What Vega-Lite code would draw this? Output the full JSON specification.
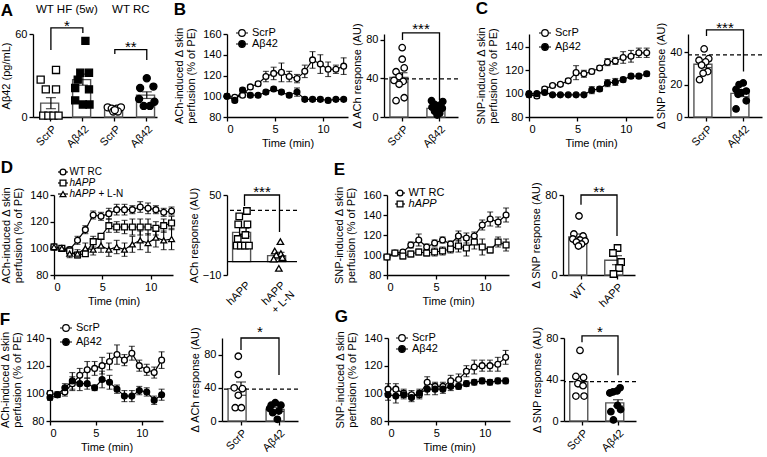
{
"$schema": "https://vega.github.io/schema/vega-lite/v6.json",
"background": "white",
"padding": {"left": -1, "top": 0, "right": 0, "bottom": 0},
"config": {
  "font": "Liberation Sans",
  "view": {"stroke": null},
  "axis": {"domainColor": "black", "domainWidth": 1.3, "tickColor": "black", "tickWidth": 1.3, "tickSize": 4, "labelColor": "black", "labelFontSize": 11, "labelPadding": 2, "titleColor": "black", "titleFontSize": 11, "titleFontWeight": "normal", "grid": false, "labelFont": "Liberation Sans", "titleFont": "Liberation Sans", "titlePadding": 4},
  "title": {"fontSize": 17, "fontWeight": "bold", "anchor": "start", "frame": "bounds", "color": "black", "font": "Liberation Sans"},
  "legend": {"orient": "none", "padding": 0, "labelFontSize": 11, "labelColor": "black", "labelFont": "Liberation Sans", "symbolStrokeColor": "black", "symbolStrokeWidth": 1.2, "symbolSize": 144, "labelOffset": 3, "rowPadding": 0},
  "text": {"font": "Liberation Sans", "color": "black"}
},
"datasets": {
  "lB": [
    {"t":0,"g":"ScrP","v":100,"e":2},{"t":0.81,"g":"ScrP","v":99,"e":2},{"t":1.62,"g":"ScrP","v":101,"e":2},{"t":2.43,"g":"ScrP","v":109,"e":2},{"t":3.24,"g":"ScrP","v":112,"e":2},{"t":4.05,"g":"ScrP","v":119,"e":5},{"t":4.86,"g":"ScrP","v":122,"e":6},{"t":5.67,"g":"ScrP","v":123,"e":9},{"t":6.48,"g":"ScrP","v":119,"e":5},{"t":7.29,"g":"ScrP","v":117,"e":4},{"t":8.1,"g":"ScrP","v":124,"e":6},{"t":8.91,"g":"ScrP","v":135,"e":8},{"t":9.72,"g":"ScrP","v":131,"e":9},{"t":10.53,"g":"ScrP","v":126,"e":7},{"t":11.34,"g":"ScrP","v":126,"e":4},{"t":12.15,"g":"ScrP","v":129,"e":8},
    {"t":0,"g":"Aβ42","v":100,"e":2},{"t":0.81,"g":"Aβ42","v":96,"e":2},{"t":1.62,"g":"Aβ42","v":106,"e":2},{"t":2.43,"g":"Aβ42","v":101,"e":2},{"t":3.24,"g":"Aβ42","v":101,"e":1.5},{"t":4.05,"g":"Aβ42","v":104,"e":2},{"t":4.86,"g":"Aβ42","v":107,"e":2},{"t":5.67,"g":"Aβ42","v":104,"e":2},{"t":6.48,"g":"Aβ42","v":101,"e":2},{"t":7.29,"g":"Aβ42","v":104,"e":4},{"t":8.1,"g":"Aβ42","v":97,"e":2},{"t":8.91,"g":"Aβ42","v":97,"e":2},{"t":9.72,"g":"Aβ42","v":97,"e":2},{"t":10.53,"g":"Aβ42","v":96,"e":2},{"t":11.34,"g":"Aβ42","v":97,"e":1.5},{"t":12.15,"g":"Aβ42","v":97,"e":1.5}
  ],
  "lC": [
    {"t":0,"g":"ScrP","v":99,"e":2},{"t":0.81,"g":"ScrP","v":98,"e":2},{"t":1.62,"g":"ScrP","v":104,"e":2},{"t":2.43,"g":"ScrP","v":107,"e":1.5},{"t":3.24,"g":"ScrP","v":108,"e":1.5},{"t":4.05,"g":"ScrP","v":111,"e":2},{"t":4.86,"g":"ScrP","v":118,"e":6},{"t":5.67,"g":"ScrP","v":117,"e":3},{"t":6.48,"g":"ScrP","v":119,"e":2},{"t":7.29,"g":"ScrP","v":122,"e":2},{"t":8.1,"g":"ScrP","v":127,"e":3},{"t":8.91,"g":"ScrP","v":128,"e":3},{"t":9.72,"g":"ScrP","v":131,"e":5},{"t":10.53,"g":"ScrP","v":132,"e":5},{"t":11.34,"g":"ScrP","v":135,"e":4},{"t":12.15,"g":"ScrP","v":135,"e":4},
    {"t":0,"g":"Aβ42","v":100,"e":1},{"t":0.81,"g":"Aβ42","v":100,"e":1},{"t":1.62,"g":"Aβ42","v":101,"e":1},{"t":2.43,"g":"Aβ42","v":99,"e":1},{"t":3.24,"g":"Aβ42","v":99,"e":1},{"t":4.05,"g":"Aβ42","v":99,"e":1},{"t":4.86,"g":"Aβ42","v":99,"e":1},{"t":5.67,"g":"Aβ42","v":99,"e":1},{"t":6.48,"g":"Aβ42","v":103,"e":3},{"t":7.29,"g":"Aβ42","v":104,"e":2},{"t":8.1,"g":"Aβ42","v":109,"e":3},{"t":8.91,"g":"Aβ42","v":110,"e":3},{"t":9.72,"g":"Aβ42","v":112,"e":2},{"t":10.53,"g":"Aβ42","v":115,"e":2},{"t":11.34,"g":"Aβ42","v":115,"e":2},{"t":12.15,"g":"Aβ42","v":117,"e":2}
  ],
  "lD": [
    {"t":0,"g":"WT RC","v":101,"e":2},{"t":0.81,"g":"WT RC","v":100,"e":2},{"t":1.62,"g":"WT RC","v":99,"e":2},{"t":2.43,"g":"WT RC","v":106,"e":3},{"t":3.24,"g":"WT RC","v":114,"e":3},{"t":4.05,"g":"WT RC","v":125,"e":3},{"t":4.86,"g":"WT RC","v":124,"e":3},{"t":5.67,"g":"WT RC","v":126,"e":4},{"t":6.48,"g":"WT RC","v":129,"e":4},{"t":7.29,"g":"WT RC","v":129,"e":4},{"t":8.1,"g":"WT RC","v":129,"e":3},{"t":8.91,"g":"WT RC","v":131,"e":4},{"t":9.72,"g":"WT RC","v":130,"e":4},{"t":10.53,"g":"WT RC","v":129,"e":3},{"t":11.34,"g":"WT RC","v":127,"e":3},{"t":12.15,"g":"WT RC","v":128,"e":3},
    {"t":0,"g":"hAPP","v":101,"e":2},{"t":0.81,"g":"hAPP","v":100,"e":2},{"t":1.62,"g":"hAPP","v":98,"e":2},{"t":2.43,"g":"hAPP","v":95,"e":2},{"t":3.24,"g":"hAPP","v":96,"e":2},{"t":4.05,"g":"hAPP","v":105,"e":4},{"t":4.86,"g":"hAPP","v":109,"e":2},{"t":5.67,"g":"hAPP","v":117,"e":5},{"t":6.48,"g":"hAPP","v":116,"e":4},{"t":7.29,"g":"hAPP","v":116,"e":5},{"t":8.1,"g":"hAPP","v":116,"e":6},{"t":8.91,"g":"hAPP","v":116,"e":6},{"t":9.72,"g":"hAPP","v":116,"e":6},{"t":10.53,"g":"hAPP","v":115,"e":5},{"t":11.34,"g":"hAPP","v":117,"e":5},{"t":12.15,"g":"hAPP","v":119,"e":5},
    {"t":0,"g":"hAPP + L-N","v":101,"e":2},{"t":0.81,"g":"hAPP + L-N","v":100,"e":2},{"t":1.62,"g":"hAPP + L-N","v":96,"e":3},{"t":2.43,"g":"hAPP + L-N","v":96,"e":3},{"t":3.24,"g":"hAPP + L-N","v":100,"e":4},{"t":4.05,"g":"hAPP + L-N","v":99,"e":4},{"t":4.86,"g":"hAPP + L-N","v":102,"e":5},{"t":5.67,"g":"hAPP + L-N","v":99,"e":5},{"t":6.48,"g":"hAPP + L-N","v":101,"e":5},{"t":7.29,"g":"hAPP + L-N","v":99,"e":5},{"t":8.1,"g":"hAPP + L-N","v":103,"e":6},{"t":8.91,"g":"hAPP + L-N","v":106,"e":7},{"t":9.72,"g":"hAPP + L-N","v":104,"e":7},{"t":10.53,"g":"hAPP + L-N","v":108,"e":7},{"t":11.34,"g":"hAPP + L-N","v":106,"e":7},{"t":12.15,"g":"hAPP + L-N","v":107,"e":8}
  ],
  "lE": [
    {"t":0,"g":"WT RC","v":98,"e":2},{"t":0.81,"g":"WT RC","v":102,"e":2},{"t":1.62,"g":"WT RC","v":103,"e":2},{"t":2.43,"g":"WT RC","v":110,"e":3},{"t":3.24,"g":"WT RC","v":115,"e":6},{"t":4.05,"g":"WT RC","v":108,"e":3},{"t":4.86,"g":"WT RC","v":112,"e":3},{"t":5.67,"g":"WT RC","v":115,"e":3},{"t":6.48,"g":"WT RC","v":111,"e":3},{"t":7.29,"g":"WT RC","v":119,"e":5},{"t":8.1,"g":"WT RC","v":117,"e":5},{"t":8.91,"g":"WT RC","v":119,"e":4},{"t":9.72,"g":"WT RC","v":130,"e":5},{"t":10.53,"g":"WT RC","v":136,"e":7},{"t":11.34,"g":"WT RC","v":133,"e":5},{"t":12.15,"g":"WT RC","v":140,"e":7},
    {"t":0,"g":"hAPP","v":98,"e":2},{"t":0.81,"g":"hAPP","v":102,"e":2},{"t":1.62,"g":"hAPP","v":99,"e":3},{"t":2.43,"g":"hAPP","v":101,"e":3},{"t":3.24,"g":"hAPP","v":103,"e":3},{"t":4.05,"g":"hAPP","v":102,"e":3},{"t":4.86,"g":"hAPP","v":103,"e":4},{"t":5.67,"g":"hAPP","v":104,"e":4},{"t":6.48,"g":"hAPP","v":106,"e":4},{"t":7.29,"g":"hAPP","v":109,"e":6},{"t":8.1,"g":"hAPP","v":107,"e":8},{"t":8.91,"g":"hAPP","v":113,"e":7},{"t":9.72,"g":"hAPP","v":108,"e":8},{"t":10.53,"g":"hAPP","v":105,"e":3},{"t":11.34,"g":"hAPP","v":113,"e":5},{"t":12.15,"g":"hAPP","v":110,"e":6}
  ],
  "lF": [
    {"t":0,"g":"ScrP","v":100,"e":2},{"t":0.81,"g":"ScrP","v":99,"e":2},{"t":1.62,"g":"ScrP","v":101,"e":3},{"t":2.43,"g":"ScrP","v":107,"e":5},{"t":3.24,"g":"ScrP","v":113,"e":5},{"t":4.05,"g":"ScrP","v":117,"e":6},{"t":4.86,"g":"ScrP","v":118,"e":5},{"t":5.67,"g":"ScrP","v":120,"e":6},{"t":6.48,"g":"ScrP","v":123,"e":6},{"t":7.29,"g":"ScrP","v":128,"e":7},{"t":8.1,"g":"ScrP","v":124,"e":4},{"t":8.91,"g":"ScrP","v":129,"e":5},{"t":9.72,"g":"ScrP","v":120,"e":4},{"t":10.53,"g":"ScrP","v":117,"e":4},{"t":11.34,"g":"ScrP","v":115,"e":4},{"t":12.15,"g":"ScrP","v":124,"e":6},
    {"t":0,"g":"Aβ42","v":97,"e":2},{"t":0.81,"g":"Aβ42","v":99,"e":2},{"t":1.62,"g":"Aβ42","v":104,"e":3},{"t":2.43,"g":"Aβ42","v":109,"e":6},{"t":3.24,"g":"Aβ42","v":107,"e":5},{"t":4.05,"g":"Aβ42","v":107,"e":4},{"t":4.86,"g":"Aβ42","v":104,"e":2},{"t":5.67,"g":"Aβ42","v":110,"e":6},{"t":6.48,"g":"Aβ42","v":108,"e":5},{"t":7.29,"g":"Aβ42","v":103,"e":3},{"t":8.1,"g":"Aβ42","v":98,"e":4},{"t":8.91,"g":"Aβ42","v":98,"e":4},{"t":9.72,"g":"Aβ42","v":102,"e":3},{"t":10.53,"g":"Aβ42","v":101,"e":3},{"t":11.34,"g":"Aβ42","v":95,"e":3},{"t":12.15,"g":"Aβ42","v":99,"e":4}
  ],
  "lG": [
    {"t":0,"g":"ScrP","v":103,"e":4},{"t":0.81,"g":"ScrP","v":103,"e":4},{"t":1.62,"g":"ScrP","v":100,"e":3},{"t":2.43,"g":"ScrP","v":99,"e":3},{"t":3.24,"g":"ScrP","v":99,"e":3},{"t":4.05,"g":"ScrP","v":108,"e":4},{"t":4.86,"g":"ScrP","v":105,"e":3},{"t":5.67,"g":"ScrP","v":105,"e":3},{"t":6.48,"g":"ScrP","v":109,"e":4},{"t":7.29,"g":"ScrP","v":110,"e":4},{"t":8.1,"g":"ScrP","v":116,"e":4},{"t":8.91,"g":"ScrP","v":119,"e":5},{"t":9.72,"g":"ScrP","v":120,"e":4},{"t":10.53,"g":"ScrP","v":120,"e":4},{"t":11.34,"g":"ScrP","v":121,"e":5},{"t":12.15,"g":"ScrP","v":126,"e":5},
    {"t":0,"g":"Aβ42","v":99,"e":4},{"t":0.81,"g":"Aβ42","v":98,"e":5},{"t":1.62,"g":"Aβ42","v":99,"e":3},{"t":2.43,"g":"Aβ42","v":97,"e":3},{"t":3.24,"g":"Aβ42","v":100,"e":3},{"t":4.05,"g":"Aβ42","v":103,"e":4},{"t":4.86,"g":"Aβ42","v":103,"e":4},{"t":5.67,"g":"Aβ42","v":103,"e":3},{"t":6.48,"g":"Aβ42","v":105,"e":3},{"t":7.29,"g":"Aβ42","v":105,"e":2},{"t":8.1,"g":"Aβ42","v":107,"e":2},{"t":8.91,"g":"Aβ42","v":108,"e":2},{"t":9.72,"g":"Aβ42","v":109,"e":2},{"t":10.53,"g":"Aβ42","v":108,"e":2},{"t":11.34,"g":"Aβ42","v":109,"e":2},{"t":12.15,"g":"Aβ42","v":109,"e":2}
  ],
  "aS": [{"c":"HF ScrP","m":10,"e":4},{"c":"HF Aβ42","m":27,"e":4},{"c":"RC ScrP","m":5.5,"e":0.8},{"c":"RC Aβ42","m":15.8,"e":2.4}],
  "aP": [
    {"c":"HF ScrP","v":27,"s":-2},{"c":"HF ScrP","v":34,"s":1},{"c":"HF ScrP","v":20,"s":-1},{"c":"HF ScrP","v":20,"s":1},{"c":"HF ScrP","v":1,"s":-1.5},{"c":"HF ScrP","v":1,"s":-0.5},{"c":"HF ScrP","v":1,"s":0.5},{"c":"HF ScrP","v":1,"s":1.5},
    {"c":"HF Aβ42","v":55,"s":0.5},{"c":"HF Aβ42","v":32,"s":-0.5},{"c":"HF Aβ42","v":32,"s":1.2},{"c":"HF Aβ42","v":27,"s":-1},{"c":"HF Aβ42","v":21,"s":-1.5},{"c":"HF Aβ42","v":20,"s":1.2},{"c":"HF Aβ42","v":12,"s":-1.5},{"c":"HF Aβ42","v":9,"s":0},{"c":"HF Aβ42","v":9,"s":1.3},
    {"c":"RC ScrP","v":7,"s":-1.4},{"c":"RC ScrP","v":6,"s":-0.6},{"c":"RC ScrP","v":6,"s":0.4},{"c":"RC ScrP","v":7,"s":1.2},{"c":"RC ScrP","v":4,"s":-0.3},{"c":"RC ScrP","v":4,"s":0.6},{"c":"RC ScrP","v":5,"s":0},
    {"c":"RC Aβ42","v":28,"s":0},{"c":"RC Aβ42","v":22,"s":1.3},{"c":"RC Aβ42","v":21,"s":-1.3},{"c":"RC Aβ42","v":13,"s":-1.5},{"c":"RC Aβ42","v":11,"s":1.5},{"c":"RC Aβ42","v":8,"s":-0.6},{"c":"RC Aβ42","v":8,"s":0.6}
  ],
  "bS": [{"c":"ScrP","m":41,"e":5},{"c":"Aβ42","m":9,"e":1.5}],
  "bP": [
    {"c":"ScrP","v":72,"s":0.4},{"c":"ScrP","v":60,"s":0.4},{"c":"ScrP","v":51,"s":0.8},{"c":"ScrP","v":47,"s":-0.8},{"c":"ScrP","v":42,"s":-0.2},{"c":"ScrP","v":38,"s":-1.2},{"c":"ScrP","v":37,"s":0.6},{"c":"ScrP","v":34,"s":-0.2},{"c":"ScrP","v":20,"s":0.8},{"c":"ScrP","v":17,"s":-0.8},
    {"c":"Aβ42","v":17,"s":-1.1},{"c":"Aβ42","v":16,"s":1.1},{"c":"Aβ42","v":13,"s":-0.5},{"c":"Aβ42","v":12,"s":0.4},{"c":"Aβ42","v":10,"s":-1},{"c":"Aβ42","v":9,"s":1},{"c":"Aβ42","v":8,"s":0},{"c":"Aβ42","v":6,"s":-0.5},{"c":"Aβ42","v":4,"s":0.5},{"c":"Aβ42","v":2,"s":0}
  ],
  "cS": [{"c":"ScrP","m":32.5,"e":2},{"c":"Aβ42","m":14.6,"e":2}],
  "cP": [
    {"c":"ScrP","v":42,"s":0},{"c":"ScrP","v":36,"s":0.9},{"c":"ScrP","v":35,"s":-1},{"c":"ScrP","v":34,"s":0.3},{"c":"ScrP","v":32,"s":-0.5},{"c":"ScrP","v":28,"s":0.7},{"c":"ScrP","v":27,"s":-0.2},{"c":"ScrP","v":23,"s":-0.9},
    {"c":"Aβ42","v":21,"s":0.4},{"c":"Aβ42","v":20,"s":-0.4},{"c":"Aβ42","v":17,"s":-1},{"c":"Aβ42","v":16,"s":1},{"c":"Aβ42","v":15,"s":0},{"c":"Aβ42","v":14,"s":-0.6},{"c":"Aβ42","v":10,"s":1},{"c":"Aβ42","v":5,"s":-1}
  ],
  "dS": [{"c":"hAPP","m":22,"e":3},{"c":"hAPP + L-N","m":4.5,"e":2.5}],
  "dP": [
    {"c":"hAPP","v":38,"s":0.8},{"c":"hAPP","v":34,"s":-0.7},{"c":"hAPP","v":28,"s":-0.9},{"c":"hAPP","v":28,"s":0.9},{"c":"hAPP","v":23,"s":0},{"c":"hAPP","v":20,"s":0.5},{"c":"hAPP","v":17,"s":-1},{"c":"hAPP","v":12,"s":-1.2},{"c":"hAPP","v":12,"s":-0.4},{"c":"hAPP","v":12,"s":0.4},{"c":"hAPP","v":12,"s":1.2},
    {"c":"hAPP + L-N","v":15,"s":0.5},{"c":"hAPP + L-N","v":8,"s":-0.6},{"c":"hAPP + L-N","v":6,"s":0.6},{"c":"hAPP + L-N","v":5,"s":-0.3},{"c":"hAPP + L-N","v":3,"s":0.9},{"c":"hAPP + L-N","v":2,"s":-0.8},{"c":"hAPP + L-N","v":-5,"s":0.2}
  ],
  "eS": [{"c":"WT","m":38,"e":3},{"c":"hAPP","m":14.8,"e":4.5}],
  "eP": [
    {"c":"WT","v":59,"s":0},{"c":"WT","v":41,"s":-1},{"c":"WT","v":39,"s":0.8},{"c":"WT","v":36,"s":-1.2},{"c":"WT","v":35,"s":0.2},{"c":"WT","v":34,"s":1.2},{"c":"WT","v":33,"s":-0.5},{"c":"WT","v":31,"s":0.5},{"c":"WT","v":29,"s":-0.1},
    {"c":"hAPP","v":27,"s":0.5},{"c":"hAPP","v":22,"s":-0.4},{"c":"hAPP","v":13,"s":1.2},{"c":"hAPP","v":7,"s":0.8},{"c":"hAPP","v":1,"s":-0.3}
  ],
  "fS": [{"c":"ScrP","m":39,"e":8},{"c":"Aβ42","m":14,"e":2.5}],
  "fP": [
    {"c":"ScrP","v":78,"s":0},{"c":"ScrP","v":56,"s":0},{"c":"ScrP","v":40,"s":-0.8},{"c":"ScrP","v":39,"s":0.8},{"c":"ScrP","v":31,"s":0},{"c":"ScrP","v":16,"s":-0.6},{"c":"ScrP","v":16,"s":0.6},
    {"c":"Aβ42","v":22,"s":-0.2},{"c":"Aβ42","v":19,"s":-1},{"c":"Aβ42","v":19,"s":0.9},{"c":"Aβ42","v":15,"s":-1.3},{"c":"Aβ42","v":12,"s":0.5},{"c":"Aβ42","v":10,"s":-0.7},{"c":"Aβ42","v":2,"s":0.2}
  ],
  "gS": [{"c":"ScrP","m":38,"e":5},{"c":"Aβ42","m":17.5,"e":3}],
  "gP": [
    {"c":"ScrP","v":68,"s":0},{"c":"ScrP","v":43,"s":-0.8},{"c":"ScrP","v":42,"s":0.7},{"c":"ScrP","v":36,"s":-0.4},{"c":"ScrP","v":34,"s":0.6},{"c":"ScrP","v":24,"s":-0.8},{"c":"ScrP","v":24,"s":0.8},
    {"c":"Aβ42","v":32,"s":0.8},{"c":"Aβ42","v":29,"s":0.2},{"c":"Aβ42","v":28,"s":-0.6},{"c":"Aβ42","v":27,"s":-1.2},{"c":"Aβ42","v":15,"s":0.3},{"c":"Aβ42","v":11,"s":0.9},{"c":"Aβ42","v":9,"s":-1},{"c":"Aβ42","v":1,"s":-0.5}
  ],
  "legD": [{"g":"WT RC","lv":157.25,"sx":0.93,"x0":0.41,"x1":1.44},{"g":"hAPP","lv":149,"sx":0.93,"x0":0.41,"x1":1.44},{"g":"hAPP + L-N","lv":140.75,"sx":0.93,"x0":0.41,"x1":1.44}],
  "legE": [{"g":"WT RC","lv":162,"sx":1.33,"x0":0.82,"x1":1.84},{"g":"hAPP","lv":151,"sx":1.33,"x0":0.82,"x1":1.84}]
},
"spacing": 9,
"resolve": {"scale": {"fill": "independent", "shape": "independent"}, "legend": {"fill": "independent", "shape": "independent"}},
"vconcat": [
 {
  "spacing": 12,
  "resolve": {"scale": {"fill": "independent", "shape": "independent"}, "legend": {"fill": "independent", "shape": "independent"}},
  "hconcat": [
   {
    "width": 124, "height": 83,
    "title": {"text": "A", "offset": -16},
    "layer": [
     {"layer": [
       {"data": {"name": "aS"}, "mark": {"type": "bar", "fill": "white", "stroke": "#555", "strokeWidth": 1.4},
        "encoding": {"x": {"field": "c", "type": "nominal", "scale": {"domain": ["HF ScrP","HF Aβ42","RC ScrP","RC Aβ42"], "paddingInner": 0.36, "paddingOuter": 0.12, "align": 1}, "axis": {"labelExpr": "slice(datum.label, 3)", "labelAngle": -45, "labelAlign": "right", "labelBaseline": "top", "bandPosition": 0.5}, "title": null},
                     "y": {"field": "m", "type": "quantitative", "scale": {"domain": [0, 60], "nice": false}, "axis": {"values": [0,20,40,60], "titlePadding": 3}, "title": "Aβ42 (pg/mL)"}}},
       {"data": {"name": "aS"}, "mark": {"type": "errorbar", "ticks": {"size": 10}, "color": "black", "thickness": 1.2},
        "encoding": {"x": {"field": "c", "type": "nominal", "scale": {"domain": ["HF ScrP","HF Aβ42","RC ScrP","RC Aβ42"], "paddingInner": 0.36, "paddingOuter": 0.12, "align": 1}, "title": null},
                     "y": {"field": "m", "type": "quantitative", "scale": {"domain": [0, 60], "nice": false}, "title": "Aβ42 (pg/mL)"}, "yError": {"field": "e"}}},
       {"data": {"name": "aP"}, "mark": {"type": "point", "filled": true, "stroke": "black", "strokeWidth": 1.3, "size": 50, "opacity": 1},
        "encoding": {"x": {"field": "c", "type": "nominal", "scale": {"domain": ["HF ScrP","HF Aβ42","RC ScrP","RC Aβ42"], "paddingInner": 0.36, "paddingOuter": 0.12, "align": 1}, "title": null},
                     "xOffset": {"field": "s", "type": "quantitative", "scale": {"domain": [-2, 2]}},
                     "y": {"field": "v", "type": "quantitative", "scale": {"domain": [0, 60], "nice": false}, "title": "Aβ42 (pg/mL)"},
                     "shape": {"condition": {"test": "indexof(datum.c,'HF')==0", "value": "square"}, "value": "circle"},
                     "fill": {"condition": {"test": "indexof(datum.c,'ScrP')>=0", "value": "white"}, "value": "black"}}}
     ]},
     {"layer": [
       {"data": {"values": [{"b":1,"k":0,"bx":0.5,"by":48.4},{"b":1,"k":1,"bx":0.5,"by":64.4},{"b":1,"k":2,"bx":1.5,"by":64.4},{"b":1,"k":3,"bx":1.5,"by":60.7},{"b":2,"k":0,"bx":2.5,"by":45.5},{"b":2,"k":1,"bx":2.5,"by":48.7},{"b":2,"k":2,"bx":3.5,"by":48.7},{"b":2,"k":3,"bx":3.5,"by":41.2}]},
        "mark": {"type": "line", "color": "black", "strokeWidth": 1.3},
        "encoding": {"x": {"field": "bx", "type": "quantitative", "scale": {"domain": [-0.06, 3.82], "nice": false, "zero": false}, "axis": null},
                     "y": {"field": "by", "type": "quantitative", "scale": {"domain": [0, 60], "nice": false}, "title": "Aβ42 (pg/mL)"},
                     "detail": {"field": "b", "type": "nominal"}, "order": {"field": "k", "type": "quantitative"}}},
       {"data": {"values": [{"bx":1,"by":62.4,"lab":"*"},{"bx":3,"by":47.2,"lab":"**"}]},
        "mark": {"type": "text", "fontSize": 15, "baseline": "alphabetic"},
        "encoding": {"x": {"field": "bx", "type": "quantitative", "scale": {"domain": [-0.06, 3.82], "nice": false, "zero": false}, "axis": null},
                     "y": {"field": "by", "type": "quantitative", "scale": {"domain": [0, 60], "nice": false}, "title": "Aβ42 (pg/mL)"},
                     "text": {"field": "lab"}}},
       {"data": {"values": [{"bx":1,"by":77.4,"lab":"WT HF (5w)"},{"bx":3,"by":77.4,"lab":"WT RC"}]},
        "mark": {"type": "text", "fontSize": 11.5, "baseline": "middle"},
        "encoding": {"x": {"field": "bx", "type": "quantitative", "scale": {"domain": [-0.06, 3.82], "nice": false, "zero": false}, "axis": null},
                     "y": {"field": "by", "type": "quantitative", "scale": {"domain": [0, 60], "nice": false}, "title": "Aβ42 (pg/mL)"},
                     "text": {"field": "lab"}}}
     ]}
    ],
    "resolve": {"scale": {"x": "independent"}}
   },
   {
    "spacing": 16,
    "resolve": {"scale": {"fill": "independent", "shape": "independent"}, "legend": {"fill": "independent", "shape": "independent"}},
    "hconcat": [
     {
      "bounds": "flush", "spacing": 36,
      "resolve": {"scale": {"fill": "independent", "shape": "independent"}, "legend": {"fill": "independent", "shape": "independent"}},
      "hconcat": [
       {
        "width": 121, "height": 83,
        "title": {"text": "B", "offset": 8},
        "data": {"name": "lB"},
        "encoding": {
          "x": {"field": "t", "type": "quantitative", "scale": {"domain": [0, 12.6], "nice": false, "zero": false}, "axis": {"values": [0,5,10], "title": "Time (min)", "titlePadding": 3}},
          "y": {"field": "v", "type": "quantitative", "scale": {"domain": [80, 160], "nice": false, "zero": false}, "axis": {"values": [80,100,120,140,160], "titlePadding": 6, "titleLineHeight": 12}, "title": ["ACh-induced Δ skin", "perfusion (% of PE)"]}
        },
        "layer": [
          {"mark": {"type": "line", "color": "black", "strokeWidth": 1.2}, "encoding": {"detail": {"field": "g", "type": "nominal"}}},
          {"mark": {"type": "errorbar", "ticks": {"size": 6}, "color": "black", "thickness": 1.1}, "encoding": {"yError": {"field": "e"}}},
          {"mark": {"type": "point", "filled": true, "stroke": "black", "strokeWidth": 1.3, "size": 34, "opacity": 1},
           "encoding": {"fill": {"field": "g", "type": "nominal", "scale": {"domain": ["ScrP", "Aβ42"], "range": ["white", "black"]},
             "legend": {"title": null, "legendX": 8, "legendY": -6, "clipHeight": 10, "symbolType": "M-1,0H-0.55M0.55,0H1M-0.55,0A0.55,0.55,0,1,1,0.55,0A0.55,0.55,0,1,1,-0.55,0Z"}}}}
        ]
       },
       {
        "width": 74, "height": 83,
        "layer": [
         {"layer": [
           {"data": {"name": "bS"}, "mark": {"type": "bar", "fill": "white", "stroke": "#555", "strokeWidth": 1.4},
            "encoding": {"x": {"field": "c", "type": "nominal", "scale": {"domain": ["ScrP","Aβ42"], "paddingInner": 0.32, "paddingOuter": 0.16}, "axis": {"labelAngle": -45, "labelAlign": "right", "labelBaseline": "top", "bandPosition": 0.5}, "title": null},
                         "y": {"field": "m", "type": "quantitative", "scale": {"domain": [0, 86.2], "nice": false}, "axis": {"values": [0,20,40,60,80], "titlePadding": 3}, "title": "Δ ACh response (AU)"}}},
           {"data": {"name": "bS"}, "mark": {"type": "errorbar", "ticks": {"size": 10}, "color": "black", "thickness": 1.2},
            "encoding": {"x": {"field": "c", "type": "nominal", "scale": {"domain": ["ScrP","Aβ42"], "paddingInner": 0.32, "paddingOuter": 0.16}, "title": null},
                         "y": {"field": "m", "type": "quantitative", "scale": {"domain": [0, 86.2], "nice": false}, "title": "Δ ACh response (AU)"}, "yError": {"field": "e"}}},
           {"data": {"values": [{}]}, "mark": {"type": "rule", "color": "black", "strokeWidth": 1.3, "strokeDash": [4, 3]},
            "encoding": {"y": {"datum": 39.5, "type": "quantitative", "scale": {"domain": [0, 86.2], "nice": false}, "title": "Δ ACh response (AU)"}}},
           {"data": {"name": "bP"}, "mark": {"type": "point", "filled": true, "stroke": "black", "strokeWidth": 1.3, "size": 42, "opacity": 1},
            "encoding": {"x": {"field": "c", "type": "nominal", "scale": {"domain": ["ScrP","Aβ42"], "paddingInner": 0.32, "paddingOuter": 0.16}, "title": null},
                         "xOffset": {"field": "s", "type": "quantitative", "scale": {"domain": [-2, 2]}},
                         "y": {"field": "v", "type": "quantitative", "scale": {"domain": [0, 86.2], "nice": false}, "title": "Δ ACh response (AU)"},
                         "fill": {"condition": {"test": "datum.c=='ScrP'", "value": "white"}, "value": "black"}}}
         ]},
         {"layer": [
           {"data": {"values": [{"k":0,"bx":0.5,"by":80},{"k":1,"bx":0.5,"by":87.3},{"k":2,"bx":1.5,"by":87.3},{"k":3,"bx":1.5,"by":17.7}]},
            "mark": {"type": "line", "color": "black", "strokeWidth": 1.3},
            "encoding": {"x": {"field": "bx", "type": "quantitative", "scale": {"domain": [0, 2], "nice": false, "zero": false}, "axis": null},
                         "y": {"field": "by", "type": "quantitative", "scale": {"domain": [0, 86.2], "nice": false}, "title": "Δ ACh response (AU)"},
                         "order": {"field": "k", "type": "quantitative"}}},
           {"data": {"values": [{"bx":1,"by":86.5,"lab":"***"}]},
            "mark": {"type": "text", "fontSize": 15, "baseline": "alphabetic"},
            "encoding": {"x": {"field": "bx", "type": "quantitative", "scale": {"domain": [0, 2], "nice": false, "zero": false}, "axis": null},
                         "y": {"field": "by", "type": "quantitative", "scale": {"domain": [0, 86.2], "nice": false}, "title": "Δ ACh response (AU)"},
                         "text": {"field": "lab"}}}
         ]}
        ],
        "resolve": {"scale": {"x": "independent"}}
       }
      ]
     },
     {
      "bounds": "flush", "spacing": 35,
      "resolve": {"scale": {"fill": "independent", "shape": "independent"}, "legend": {"fill": "independent", "shape": "independent"}},
      "hconcat": [
       {
        "width": 124, "height": 83,
        "title": {"text": "C", "offset": 8},
        "data": {"name": "lC"},
        "encoding": {
          "x": {"field": "t", "type": "quantitative", "scale": {"domain": [0, 12.8], "nice": false, "zero": false}, "axis": {"values": [0,5,10], "title": "Time (min)", "titlePadding": 3}},
          "y": {"field": "v", "type": "quantitative", "scale": {"domain": [80, 151.1], "nice": false, "zero": false}, "axis": {"values": [80,100,120,140], "titlePadding": 6, "titleLineHeight": 12}, "title": ["SNP-induced Δ skin", "perfusion (% of PE)"]}
        },
        "layer": [
          {"mark": {"type": "line", "color": "black", "strokeWidth": 1.2}, "encoding": {"detail": {"field": "g", "type": "nominal"}}},
          {"mark": {"type": "errorbar", "ticks": {"size": 6}, "color": "black", "thickness": 1.1}, "encoding": {"yError": {"field": "e"}}},
          {"mark": {"type": "point", "filled": true, "stroke": "black", "strokeWidth": 1.3, "size": 34, "opacity": 1},
           "encoding": {"fill": {"field": "g", "type": "nominal", "scale": {"domain": ["ScrP", "Aβ42"], "range": ["white", "black"]},
             "legend": {"title": null, "legendX": 9, "legendY": -8, "clipHeight": 14, "symbolType": "M-1,0H-0.55M0.55,0H1M-0.55,0A0.55,0.55,0,1,1,0.55,0A0.55,0.55,0,1,1,-0.55,0Z"}}}}
        ]
       },
       {
        "width": 74, "height": 83,
        "layer": [
         {"layer": [
           {"data": {"name": "cS"}, "mark": {"type": "bar", "fill": "white", "stroke": "#555", "strokeWidth": 1.4},
            "encoding": {"x": {"field": "c", "type": "nominal", "scale": {"domain": ["ScrP","Aβ42"], "paddingInner": 0.32, "paddingOuter": 0.16}, "axis": {"labelAngle": -45, "labelAlign": "right", "labelBaseline": "top", "bandPosition": 0.5}, "title": null},
                         "y": {"field": "m", "type": "quantitative", "scale": {"domain": [0, 51.2], "nice": false}, "axis": {"values": [0,10,20,30,40,50], "titlePadding": 3}, "title": "Δ SNP response (AU)"}}},
           {"data": {"name": "cS"}, "mark": {"type": "errorbar", "ticks": {"size": 10}, "color": "black", "thickness": 1.2},
            "encoding": {"x": {"field": "c", "type": "nominal", "scale": {"domain": ["ScrP","Aβ42"], "paddingInner": 0.32, "paddingOuter": 0.16}, "title": null},
                         "y": {"field": "m", "type": "quantitative", "scale": {"domain": [0, 51.2], "nice": false}, "title": "Δ SNP response (AU)"}, "yError": {"field": "e"}}},
           {"data": {"values": [{}]}, "mark": {"type": "rule", "color": "black", "strokeWidth": 1.3, "strokeDash": [4, 3]},
            "encoding": {"y": {"datum": 38.3, "type": "quantitative", "scale": {"domain": [0, 51.2], "nice": false}, "title": "Δ SNP response (AU)"}}},
           {"data": {"name": "cP"}, "mark": {"type": "point", "filled": true, "stroke": "black", "strokeWidth": 1.3, "size": 42, "opacity": 1},
            "encoding": {"x": {"field": "c", "type": "nominal", "scale": {"domain": ["ScrP","Aβ42"], "paddingInner": 0.32, "paddingOuter": 0.16}, "title": null},
                         "xOffset": {"field": "s", "type": "quantitative", "scale": {"domain": [-2, 2]}},
                         "y": {"field": "v", "type": "quantitative", "scale": {"domain": [0, 51.2], "nice": false}, "title": "Δ SNP response (AU)"},
                         "fill": {"condition": {"test": "datum.c=='ScrP'", "value": "white"}, "value": "black"}}}
         ]},
         {"layer": [
           {"data": {"values": [{"k":0,"bx":0.5,"by":50},{"k":1,"bx":0.5,"by":53.7},{"k":2,"bx":1.5,"by":53.7},{"k":3,"bx":1.5,"by":28}]},
            "mark": {"type": "line", "color": "black", "strokeWidth": 1.3},
            "encoding": {"x": {"field": "bx", "type": "quantitative", "scale": {"domain": [0, 2], "nice": false, "zero": false}, "axis": null},
                         "y": {"field": "by", "type": "quantitative", "scale": {"domain": [0, 51.2], "nice": false}, "title": "Δ SNP response (AU)"},
                         "order": {"field": "k", "type": "quantitative"}}},
           {"data": {"values": [{"bx":1,"by":51.9,"lab":"***"}]},
            "mark": {"type": "text", "fontSize": 15, "baseline": "alphabetic"},
            "encoding": {"x": {"field": "bx", "type": "quantitative", "scale": {"domain": [0, 2], "nice": false, "zero": false}, "axis": null},
                         "y": {"field": "by", "type": "quantitative", "scale": {"domain": [0, 51.2], "nice": false}, "title": "Δ SNP response (AU)"},
                         "text": {"field": "lab"}}}
         ]}
        ],
        "resolve": {"scale": {"x": "independent"}}
       }
      ]
     }
    ]
   }
  ]
 },
 {
  "spacing": -9,
  "resolve": {"scale": {"fill": "independent", "shape": "independent"}, "legend": {"fill": "independent", "shape": "independent"}},
  "vconcat": [
 {
  "bounds": "flush", "spacing": 20,
  "resolve": {"scale": {"fill": "independent", "shape": "independent"}, "legend": {"fill": "independent", "shape": "independent"}},
  "hconcat": [
   {"width": 1, "height": 1, "data": {"values": []}, "mark": {"type": "rule"}, "encoding": {}},
   {
    "spacing": 35,
    "resolve": {"scale": {"fill": "independent", "shape": "independent"}, "legend": {"fill": "independent", "shape": "independent"}},
    "hconcat": [
     {
      "bounds": "flush", "spacing": 54,
      "resolve": {"scale": {"fill": "independent", "shape": "independent"}, "legend": {"fill": "independent", "shape": "independent"}},
      "hconcat": [
       {
        "width": 119, "height": 80,
        "title": {"text": "D", "offset": -11},
        "data": {"name": "lD"},
        "encoding": {
          "x": {"field": "t", "type": "quantitative", "scale": {"domain": [0, 12.3], "nice": false, "zero": false}, "axis": {"values": [0,5,10], "title": "Time (min)", "titlePadding": 3}},
          "y": {"field": "v", "type": "quantitative", "scale": {"domain": [80, 140], "nice": false, "zero": false}, "axis": {"values": [80,100,120,140], "titlePadding": 6, "titleLineHeight": 12}, "title": ["ACh-induced Δ skin", "perfusion (% of PE)"]}
        },
        "layer": [
          {"mark": {"type": "line", "color": "black", "strokeWidth": 1.2}, "encoding": {"detail": {"field": "g", "type": "nominal"}}},
          {"mark": {"type": "errorbar", "ticks": {"size": 6}, "color": "black", "thickness": 1.1}, "encoding": {"yError": {"field": "e"}}},
          {"mark": {"type": "point", "filled": true, "fill": "white", "stroke": "black", "strokeWidth": 1.3, "size": 34, "opacity": 1},
           "encoding": {"shape": {"field": "g", "type": "nominal", "scale": {"domain": ["WT RC", "hAPP", "hAPP + L-N"], "range": ["circle", "square", "triangle-up"]}, "legend": null}}},
          {"data": {"name": "legD"}, "mark": {"type": "rule", "color": "black", "strokeWidth": 1.2},
           "encoding": {"x": {"field": "x0", "type": "quantitative"}, "x2": {"field": "x1"},
                        "y": {"field": "lv", "type": "quantitative", "scale": {"domain": [80, 140], "nice": false, "zero": false}, "title": ["ACh-induced Δ skin", "perfusion (% of PE)"]}}},
          {"data": {"name": "legD"}, "mark": {"type": "point", "filled": true, "fill": "white", "stroke": "black", "strokeWidth": 1.3, "size": 34, "opacity": 1},
           "encoding": {"x": {"field": "sx", "type": "quantitative"},
                        "y": {"field": "lv", "type": "quantitative", "scale": {"domain": [80, 140], "nice": false, "zero": false}, "title": ["ACh-induced Δ skin", "perfusion (% of PE)"]},
                        "shape": {"field": "g", "type": "nominal", "scale": {"domain": ["WT RC", "hAPP", "hAPP + L-N"], "range": ["circle", "square", "triangle-up"]}, "legend": null}}},
          {"data": {"values": [{"lab":"WT RC","lv":157.25,"lx":1.6},{"lab":"+ L-N","lv":140.75,"lx":4.6}]}, "mark": {"type": "text", "align": "left", "baseline": "middle", "fontSize": 10},
           "encoding": {"x": {"field": "lx", "type": "quantitative"},
                        "y": {"field": "lv", "type": "quantitative", "scale": {"domain": [80, 140], "nice": false, "zero": false}, "title": ["ACh-induced Δ skin", "perfusion (% of PE)"]},
                        "text": {"field": "lab"}}},
          {"data": {"values": [{"lab":"hAPP","lv":149,"lx":1.6},{"lab":"hAPP","lv":140.75,"lx":1.6}]}, "mark": {"type": "text", "align": "left", "baseline": "middle", "fontSize": 10, "fontStyle": "italic"},
           "encoding": {"x": {"field": "lx", "type": "quantitative"},
                        "y": {"field": "lv", "type": "quantitative", "scale": {"domain": [80, 140], "nice": false, "zero": false}, "title": ["ACh-induced Δ skin", "perfusion (% of PE)"]},
                        "text": {"field": "lab"}}}
        ]
       },
       {
        "width": 70, "height": 80,
        "layer": [
         {"layer": [
           {"data": {"name": "dS"}, "mark": {"type": "bar", "fill": "white", "stroke": "#555", "strokeWidth": 1.4},
            "encoding": {"x": {"field": "c", "type": "nominal", "scale": {"domain": ["hAPP","hAPP + L-N"], "paddingInner": 0.32, "paddingOuter": 0.16}, "axis": {"labelAngle": -45, "labelAlign": "right", "labelBaseline": "top", "domain": false, "ticks": false, "labelPadding": 4, "labelExpr": "datum.label == 'hAPP + L-N' ? ['hAPP', '+ L-N'] : datum.label"}, "title": null},
                         "y": {"field": "m", "type": "quantitative", "scale": {"domain": [-10, 50], "nice": false}, "axis": {"values": [-10,0,10,20,30,40,50], "titlePadding": 3}, "title": "ACh response (AU)"}}},
           {"data": {"name": "dS"}, "mark": {"type": "errorbar", "ticks": {"size": 10}, "color": "black", "thickness": 1.2},
            "encoding": {"x": {"field": "c", "type": "nominal", "scale": {"domain": ["hAPP","hAPP + L-N"], "paddingInner": 0.32, "paddingOuter": 0.16}, "title": null},
                         "y": {"field": "m", "type": "quantitative", "scale": {"domain": [-10, 50], "nice": false}, "title": "ACh response (AU)"}, "yError": {"field": "e"}}},
           {"data": {"values": [{}]}, "mark": {"type": "rule", "color": "black", "strokeWidth": 1.3},
            "encoding": {"y": {"datum": 0, "type": "quantitative", "scale": {"domain": [-10, 50], "nice": false}, "title": "ACh response (AU)"}}},
           {"data": {"values": [{}]}, "mark": {"type": "rule", "color": "black", "strokeWidth": 1.3, "strokeDash": [4, 3]},
            "encoding": {"y": {"datum": 38.5, "type": "quantitative", "scale": {"domain": [-10, 50], "nice": false}, "title": "ACh response (AU)"}}},
           {"data": {"name": "dP"}, "mark": {"type": "point", "filled": true, "fill": "white", "stroke": "black", "strokeWidth": 1.3, "size": 42, "opacity": 1},
            "encoding": {"x": {"field": "c", "type": "nominal", "scale": {"domain": ["hAPP","hAPP + L-N"], "paddingInner": 0.32, "paddingOuter": 0.16}, "title": null},
                         "xOffset": {"field": "s", "type": "quantitative", "scale": {"domain": [-2, 2]}},
                         "y": {"field": "v", "type": "quantitative", "scale": {"domain": [-10, 50], "nice": false}, "title": "ACh response (AU)"},
                         "shape": {"condition": {"test": "datum.c=='hAPP'", "value": "square"}, "value": "triangle-up"}}}
         ]},
         {"layer": [
           {"data": {"values": [{"k":0,"bx":0.5,"by":41.7},{"k":1,"bx":0.5,"by":50},{"k":2,"bx":1.5,"by":50},{"k":3,"bx":1.5,"by":22.2}]},
            "mark": {"type": "line", "color": "black", "strokeWidth": 1.3},
            "encoding": {"x": {"field": "bx", "type": "quantitative", "scale": {"domain": [0, 2], "nice": false, "zero": false}, "axis": null},
                         "y": {"field": "by", "type": "quantitative", "scale": {"domain": [-10, 50], "nice": false}, "title": "ACh response (AU)"},
                         "order": {"field": "k", "type": "quantitative"}}},
           {"data": {"values": [{"bx":1,"by":48.7,"lab":"***"}]},
            "mark": {"type": "text", "fontSize": 15, "baseline": "alphabetic"},
            "encoding": {"x": {"field": "bx", "type": "quantitative", "scale": {"domain": [0, 2], "nice": false, "zero": false}, "axis": null},
                         "y": {"field": "by", "type": "quantitative", "scale": {"domain": [-10, 50], "nice": false}, "title": "ACh response (AU)"},
                         "text": {"field": "lab"}}}
         ]}
        ],
        "resolve": {"scale": {"x": "independent"}}
       }
      ]
     },
     {
      "bounds": "flush", "spacing": 54,
      "resolve": {"scale": {"fill": "independent", "shape": "independent"}, "legend": {"fill": "independent", "shape": "independent"}},
      "hconcat": [
       {
        "width": 122, "height": 80,
        "title": {"text": "E", "offset": 7},
        "data": {"name": "lE"},
        "encoding": {
          "x": {"field": "t", "type": "quantitative", "scale": {"domain": [0, 12.45], "nice": false, "zero": false}, "axis": {"values": [0,5,10], "title": "Time (min)", "titlePadding": 3}},
          "y": {"field": "v", "type": "quantitative", "scale": {"domain": [80, 160], "nice": false, "zero": false}, "axis": {"values": [80,100,120,140,160], "titlePadding": 6, "titleLineHeight": 12}, "title": ["SNP-induced Δ skin", "perfusion (% of PE)"]}
        },
        "layer": [
          {"mark": {"type": "line", "color": "black", "strokeWidth": 1.2}, "encoding": {"detail": {"field": "g", "type": "nominal"}}},
          {"mark": {"type": "errorbar", "ticks": {"size": 6}, "color": "black", "thickness": 1.1}, "encoding": {"yError": {"field": "e"}}},
          {"mark": {"type": "point", "filled": true, "fill": "white", "stroke": "black", "strokeWidth": 1.3, "size": 34, "opacity": 1},
           "encoding": {"shape": {"field": "g", "type": "nominal", "scale": {"domain": ["WT RC", "hAPP"], "range": ["circle", "square"]}, "legend": null}}},
          {"data": {"name": "legE"}, "mark": {"type": "rule", "color": "black", "strokeWidth": 1.2},
           "encoding": {"x": {"field": "x0", "type": "quantitative"}, "x2": {"field": "x1"},
                        "y": {"field": "lv", "type": "quantitative", "scale": {"domain": [80, 160], "nice": false, "zero": false}, "title": ["SNP-induced Δ skin", "perfusion (% of PE)"]}}},
          {"data": {"name": "legE"}, "mark": {"type": "point", "filled": true, "fill": "white", "stroke": "black", "strokeWidth": 1.3, "size": 34, "opacity": 1},
           "encoding": {"x": {"field": "sx", "type": "quantitative"},
                        "y": {"field": "lv", "type": "quantitative", "scale": {"domain": [80, 160], "nice": false, "zero": false}, "title": ["SNP-induced Δ skin", "perfusion (% of PE)"]},
                        "shape": {"field": "g", "type": "nominal", "scale": {"domain": ["WT RC", "hAPP"], "range": ["circle", "square"]}, "legend": null}}},
          {"data": {"values": [{"lab":"WT RC","lv":162,"lx":2.2}]}, "mark": {"type": "text", "align": "left", "baseline": "middle", "fontSize": 11},
           "encoding": {"x": {"field": "lx", "type": "quantitative"},
                        "y": {"field": "lv", "type": "quantitative", "scale": {"domain": [80, 160], "nice": false, "zero": false}, "title": ["SNP-induced Δ skin", "perfusion (% of PE)"]},
                        "text": {"field": "lab"}}},
          {"data": {"values": [{"lab":"hAPP","lv":151,"lx":2.2}]}, "mark": {"type": "text", "align": "left", "baseline": "middle", "fontSize": 11, "fontStyle": "italic"},
           "encoding": {"x": {"field": "lx", "type": "quantitative"},
                        "y": {"field": "lv", "type": "quantitative", "scale": {"domain": [80, 160], "nice": false, "zero": false}, "title": ["SNP-induced Δ skin", "perfusion (% of PE)"]},
                        "text": {"field": "lab"}}}
        ]
       },
       {
        "width": 72, "height": 80,
        "layer": [
         {"layer": [
           {"data": {"name": "eS"}, "mark": {"type": "bar", "fill": "white", "stroke": "#555", "strokeWidth": 1.4},
            "encoding": {"x": {"field": "c", "type": "nominal", "scale": {"domain": ["WT","hAPP"], "paddingInner": 0.32, "paddingOuter": 0.16}, "axis": {"labelAngle": -45, "labelAlign": "right", "labelBaseline": "top", "bandPosition": 0.5}, "title": null},
                         "y": {"field": "m", "type": "quantitative", "scale": {"domain": [0, 80], "nice": false}, "axis": {"values": [0,20,40,60,80], "titlePadding": 3}, "title": "Δ SNP response (AU)"}}},
           {"data": {"name": "eS"}, "mark": {"type": "errorbar", "ticks": {"size": 10}, "color": "black", "thickness": 1.2},
            "encoding": {"x": {"field": "c", "type": "nominal", "scale": {"domain": ["WT","hAPP"], "paddingInner": 0.32, "paddingOuter": 0.16}, "title": null},
                         "y": {"field": "m", "type": "quantitative", "scale": {"domain": [0, 80], "nice": false}, "title": "Δ SNP response (AU)"}, "yError": {"field": "e"}}},
           {"data": {"name": "eP"}, "mark": {"type": "point", "filled": true, "fill": "white", "stroke": "black", "strokeWidth": 1.3, "size": 42, "opacity": 1},
            "encoding": {"x": {"field": "c", "type": "nominal", "scale": {"domain": ["WT","hAPP"], "paddingInner": 0.32, "paddingOuter": 0.16}, "title": null},
                         "xOffset": {"field": "s", "type": "quantitative", "scale": {"domain": [-2, 2]}},
                         "y": {"field": "v", "type": "quantitative", "scale": {"domain": [0, 80], "nice": false}, "title": "Δ SNP response (AU)"},
                         "shape": {"condition": {"test": "datum.c=='hAPP'", "value": "square"}, "value": "circle"}}}
         ]},
         {"layer": [
           {"data": {"values": [{"k":0,"bx":0.5,"by":70.3},{"k":1,"bx":0.5,"by":80},{"k":2,"bx":1.5,"by":80},{"k":3,"bx":1.5,"by":39}]},
            "mark": {"type": "line", "color": "black", "strokeWidth": 1.3},
            "encoding": {"x": {"field": "bx", "type": "quantitative", "scale": {"domain": [0, 2], "nice": false, "zero": false}, "axis": null},
                         "y": {"field": "by", "type": "quantitative", "scale": {"domain": [0, 80], "nice": false}, "title": "Δ SNP response (AU)"},
                         "order": {"field": "k", "type": "quantitative"}}},
           {"data": {"values": [{"bx":1,"by":78.3,"lab":"**"}]},
            "mark": {"type": "text", "fontSize": 15, "baseline": "alphabetic"},
            "encoding": {"x": {"field": "bx", "type": "quantitative", "scale": {"domain": [0, 2], "nice": false, "zero": false}, "axis": null},
                         "y": {"field": "by", "type": "quantitative", "scale": {"domain": [0, 80], "nice": false}, "title": "Δ SNP response (AU)"},
                         "text": {"field": "lab"}}}
         ]}
        ],
        "resolve": {"scale": {"x": "independent"}}
       }
      ]
     }
    ]
   }
  ]
 },
 {
  "bounds": "flush", "spacing": 16,
  "resolve": {"scale": {"fill": "independent", "shape": "independent"}, "legend": {"fill": "independent", "shape": "independent"}},
  "hconcat": [
   {"width": 1, "height": 1, "data": {"values": []}, "mark": {"type": "rule"}, "encoding": {}},
   {
    "spacing": 35,
    "resolve": {"scale": {"fill": "independent", "shape": "independent"}, "legend": {"fill": "independent", "shape": "independent"}},
    "hconcat": [
     {
      "bounds": "flush", "spacing": 59,
      "resolve": {"scale": {"fill": "independent", "shape": "independent"}, "legend": {"fill": "independent", "shape": "independent"}},
      "hconcat": [
       {
        "width": 113, "height": 83,
        "title": {"text": "F", "offset": -8},
        "data": {"name": "lF"},
        "encoding": {
          "x": {"field": "t", "type": "quantitative", "scale": {"domain": [0, 12.3], "nice": false, "zero": false}, "axis": {"values": [0,5,10], "title": "Time (min)", "titlePadding": 3}},
          "y": {"field": "v", "type": "quantitative", "scale": {"domain": [80, 140], "nice": false, "zero": false}, "axis": {"values": [80,100,120,140], "titlePadding": 3, "titleLineHeight": 12}, "title": ["ACh-induced Δ skin", "perfusion (% of PE)"]}
        },
        "layer": [
          {"mark": {"type": "line", "color": "black", "strokeWidth": 1.2}, "encoding": {"detail": {"field": "g", "type": "nominal"}}},
          {"mark": {"type": "errorbar", "ticks": {"size": 6}, "color": "black", "thickness": 1.1}, "encoding": {"yError": {"field": "e"}}},
          {"mark": {"type": "point", "filled": true, "stroke": "black", "strokeWidth": 1.3, "size": 34, "opacity": 1},
           "encoding": {"fill": {"field": "g", "type": "nominal", "scale": {"domain": ["ScrP", "Aβ42"], "range": ["white", "black"]},
             "legend": {"title": null, "legendX": 9, "legendY": -17, "clipHeight": 14, "symbolType": "M-1,0H-0.55M0.55,0H1M-0.55,0A0.55,0.55,0,1,1,0.55,0A0.55,0.55,0,1,1,-0.55,0Z"}}}}
        ]
       },
       {
        "width": 76, "height": 83,
        "layer": [
         {"layer": [
           {"data": {"name": "fS"}, "mark": {"type": "bar", "fill": "white", "stroke": "#555", "strokeWidth": 1.4},
            "encoding": {"x": {"field": "c", "type": "nominal", "scale": {"domain": ["ScrP","Aβ42"], "paddingInner": 0.32, "paddingOuter": 0.16}, "axis": {"labelAngle": -45, "labelAlign": "right", "labelBaseline": "top", "bandPosition": 0.5}, "title": null},
                         "y": {"field": "m", "type": "quantitative", "scale": {"domain": [0, 100], "nice": false}, "axis": {"values": [0,20,40,60,80,100], "titlePadding": 3}, "title": "Δ ACh response (AU)"}}},
           {"data": {"name": "fS"}, "mark": {"type": "errorbar", "ticks": {"size": 10}, "color": "black", "thickness": 1.2},
            "encoding": {"x": {"field": "c", "type": "nominal", "scale": {"domain": ["ScrP","Aβ42"], "paddingInner": 0.32, "paddingOuter": 0.16}, "title": null},
                         "y": {"field": "m", "type": "quantitative", "scale": {"domain": [0, 100], "nice": false}, "title": "Δ ACh response (AU)"}, "yError": {"field": "e"}}},
           {"data": {"values": [{}]}, "mark": {"type": "rule", "color": "black", "strokeWidth": 1.3, "strokeDash": [4, 3]},
            "encoding": {"y": {"datum": 38.5, "type": "quantitative", "scale": {"domain": [0, 100], "nice": false}, "title": "Δ ACh response (AU)"}}},
           {"data": {"name": "fP"}, "mark": {"type": "point", "filled": true, "stroke": "black", "strokeWidth": 1.3, "size": 42, "opacity": 1},
            "encoding": {"x": {"field": "c", "type": "nominal", "scale": {"domain": ["ScrP","Aβ42"], "paddingInner": 0.32, "paddingOuter": 0.16}, "title": null},
                         "xOffset": {"field": "s", "type": "quantitative", "scale": {"domain": [-2, 2]}},
                         "y": {"field": "v", "type": "quantitative", "scale": {"domain": [0, 100], "nice": false}, "title": "Δ ACh response (AU)"},
                         "fill": {"condition": {"test": "datum.c=='ScrP'", "value": "white"}, "value": "black"}}}
         ]},
         {"layer": [
           {"data": {"values": [{"k":0,"bx":0.5,"by":85.5},{"k":1,"bx":0.5,"by":100},{"k":2,"bx":1.5,"by":100},{"k":3,"bx":1.5,"by":55.4}]},
            "mark": {"type": "line", "color": "black", "strokeWidth": 1.3},
            "encoding": {"x": {"field": "bx", "type": "quantitative", "scale": {"domain": [0, 2], "nice": false, "zero": false}, "axis": null},
                         "y": {"field": "by", "type": "quantitative", "scale": {"domain": [0, 100], "nice": false}, "title": "Δ ACh response (AU)"},
                         "order": {"field": "k", "type": "quantitative"}}},
           {"data": {"values": [{"bx":1,"by":101,"lab":"*"}]},
            "mark": {"type": "text", "fontSize": 15, "baseline": "alphabetic"},
            "encoding": {"x": {"field": "bx", "type": "quantitative", "scale": {"domain": [0, 2], "nice": false, "zero": false}, "axis": null},
                         "y": {"field": "by", "type": "quantitative", "scale": {"domain": [0, 100], "nice": false}, "title": "Δ ACh response (AU)"},
                         "text": {"field": "lab"}}}
         ]}
        ],
        "resolve": {"scale": {"x": "independent"}}
       }
      ]
     },
     {
      "bounds": "flush", "spacing": 54,
      "resolve": {"scale": {"fill": "independent", "shape": "independent"}, "legend": {"fill": "independent", "shape": "independent"}},
      "hconcat": [
       {
        "width": 122, "height": 83,
        "title": {"text": "G", "offset": 5},
        "data": {"name": "lG"},
        "encoding": {
          "x": {"field": "t", "type": "quantitative", "scale": {"domain": [0, 12.6], "nice": false, "zero": false}, "axis": {"values": [0,5,10], "title": "Time (min)", "titlePadding": 3}},
          "y": {"field": "v", "type": "quantitative", "scale": {"domain": [80, 140], "nice": false, "zero": false}, "axis": {"values": [80,100,120,140], "titlePadding": 6, "titleLineHeight": 12}, "title": ["SNP-induced Δ skin", "perfusion (% of PE)"]}
        },
        "layer": [
          {"mark": {"type": "line", "color": "black", "strokeWidth": 1.2}, "encoding": {"detail": {"field": "g", "type": "nominal"}}},
          {"mark": {"type": "errorbar", "ticks": {"size": 6}, "color": "black", "thickness": 1.1}, "encoding": {"yError": {"field": "e"}}},
          {"mark": {"type": "point", "filled": true, "stroke": "black", "strokeWidth": 1.3, "size": 34, "opacity": 1},
           "encoding": {"fill": {"field": "g", "type": "nominal", "scale": {"domain": ["ScrP", "Aβ42"], "range": ["white", "black"]},
             "legend": {"title": null, "legendX": 7, "legendY": -5, "clipHeight": 10, "symbolType": "M-1,0H-0.55M0.55,0H1M-0.55,0A0.55,0.55,0,1,1,0.55,0A0.55,0.55,0,1,1,-0.55,0Z"}}}}
        ]
       },
       {
        "width": 72, "height": 83,
        "layer": [
         {"layer": [
           {"data": {"name": "gS"}, "mark": {"type": "bar", "fill": "white", "stroke": "#555", "strokeWidth": 1.4},
            "encoding": {"x": {"field": "c", "type": "nominal", "scale": {"domain": ["ScrP","Aβ42"], "paddingInner": 0.32, "paddingOuter": 0.16}, "axis": {"labelAngle": -45, "labelAlign": "right", "labelBaseline": "top", "bandPosition": 0.5}, "title": null},
                         "y": {"field": "m", "type": "quantitative", "scale": {"domain": [0, 80], "nice": false}, "axis": {"values": [0,20,40,60,80], "titlePadding": 3}, "title": "Δ SNP response (AU)"}}},
           {"data": {"name": "gS"}, "mark": {"type": "errorbar", "ticks": {"size": 10}, "color": "black", "thickness": 1.2},
            "encoding": {"x": {"field": "c", "type": "nominal", "scale": {"domain": ["ScrP","Aβ42"], "paddingInner": 0.32, "paddingOuter": 0.16}, "title": null},
                         "y": {"field": "m", "type": "quantitative", "scale": {"domain": [0, 80], "nice": false}, "title": "Δ SNP response (AU)"}, "yError": {"field": "e"}}},
           {"data": {"values": [{}]}, "mark": {"type": "rule", "color": "black", "strokeWidth": 1.3, "strokeDash": [4, 3]},
            "encoding": {"y": {"datum": 38, "type": "quantitative", "scale": {"domain": [0, 80], "nice": false}, "title": "Δ SNP response (AU)"}}},
           {"data": {"name": "gP"}, "mark": {"type": "point", "filled": true, "stroke": "black", "strokeWidth": 1.3, "size": 42, "opacity": 1},
            "encoding": {"x": {"field": "c", "type": "nominal", "scale": {"domain": ["ScrP","Aβ42"], "paddingInner": 0.32, "paddingOuter": 0.16}, "title": null},
                         "xOffset": {"field": "s", "type": "quantitative", "scale": {"domain": [-2, 2]}},
                         "y": {"field": "v", "type": "quantitative", "scale": {"domain": [0, 80], "nice": false}, "title": "Δ SNP response (AU)"},
                         "fill": {"condition": {"test": "datum.c=='ScrP'", "value": "white"}, "value": "black"}}}
         ]},
         {"layer": [
           {"data": {"values": [{"k":0,"bx":0.5,"by":76},{"k":1,"bx":0.5,"by":82},{"k":2,"bx":1.5,"by":82},{"k":3,"bx":1.5,"by":44}]},
            "mark": {"type": "line", "color": "black", "strokeWidth": 1.3},
            "encoding": {"x": {"field": "bx", "type": "quantitative", "scale": {"domain": [0, 2], "nice": false, "zero": false}, "axis": null},
                         "y": {"field": "by", "type": "quantitative", "scale": {"domain": [0, 80], "nice": false}, "title": "Δ SNP response (AU)"},
                         "order": {"field": "k", "type": "quantitative"}}},
           {"data": {"values": [{"bx":1,"by":81,"lab":"*"}]},
            "mark": {"type": "text", "fontSize": 15, "baseline": "alphabetic"},
            "encoding": {"x": {"field": "bx", "type": "quantitative", "scale": {"domain": [0, 2], "nice": false, "zero": false}, "axis": null},
                         "y": {"field": "by", "type": "quantitative", "scale": {"domain": [0, 80], "nice": false}, "title": "Δ SNP response (AU)"},
                         "text": {"field": "lab"}}}
         ]}
        ],
        "resolve": {"scale": {"x": "independent"}}
       }
      ]
     }
    ]
   }
  ]
 }
  ]
 }
]
}
